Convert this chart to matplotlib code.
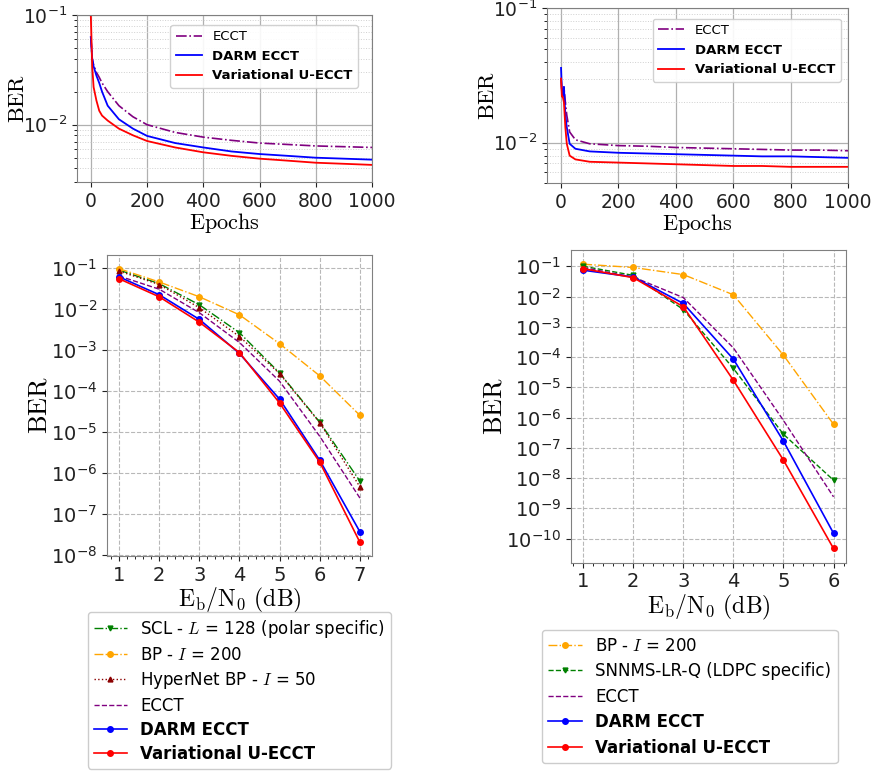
import matplotlib
matplotlib.use("Agg")
import matplotlib.pyplot as plt
from matplotlib.ticker import LogLocator, NullFormatter
import numpy as np

plt.rcParams['mathtext.fontset'] = 'cm'
plt.rcParams['axes.edgecolor'] = '#808080'

# --- training curves, left code ---
ep_left = [0, 5, 10, 20, 30, 40, 60, 100, 150, 200, 300, 400, 500, 600, 700, 800, 900, 1000]
ecct_left = [0.063, 0.040, 0.035, 0.030, 0.027, 0.024, 0.020, 0.0149, 0.0118, 0.0100,
             0.0085, 0.0077, 0.0072, 0.0068, 0.0066, 0.0064, 0.0063, 0.0062]
darm_left = [0.063, 0.040, 0.034, 0.028, 0.024, 0.020, 0.0149, 0.0112, 0.0092, 0.0079,
             0.0068, 0.0062, 0.0057, 0.0054, 0.0052, 0.0050, 0.0049, 0.0048]
vu_left = [0.100, 0.034, 0.022, 0.0166, 0.0134, 0.0121, 0.0109, 0.0092, 0.0080, 0.0071,
           0.0062, 0.0056, 0.0052, 0.0049, 0.0047, 0.0045, 0.0044, 0.0043]

# --- training curves, right code ---
ep_right = [0, 3, 6, 10, 15, 20, 30, 50, 100, 200, 300, 400, 500, 600, 700, 800, 900, 1000]
ecct_right = [0.030, 0.024, 0.022, 0.026, 0.020, 0.016, 0.0120, 0.0105, 0.0098, 0.0095,
              0.0094, 0.0092, 0.0091, 0.0090, 0.0089, 0.0088, 0.0088, 0.0087]
darm_right = [0.036, 0.024, 0.022, 0.026, 0.016, 0.013, 0.0098, 0.0090, 0.0086, 0.0084,
              0.0083, 0.0082, 0.0081, 0.0080, 0.0079, 0.0079, 0.0078, 0.0077]
vu_right = [0.030, 0.022, 0.022, 0.020, 0.013, 0.0098, 0.0080, 0.0075, 0.0072, 0.0071,
            0.0070, 0.0069, 0.0068, 0.0067, 0.0067, 0.0066, 0.0066, 0.0066]

# --- BER vs Eb/N0, polar code ---
snr_polar = [1, 2, 3, 4, 5, 6, 7]
scl_polar = [0.088, 0.041, 0.0125, 0.0026, 2.7e-4, 1.7e-5, 6.2e-7]
bp_polar = [0.095, 0.045, 0.0196, 0.0071, 0.0014, 2.3e-4, 2.5e-5]
hyper_polar = [0.083, 0.039, 0.0106, 0.0021, 2.6e-4, 1.65e-5, 4.5e-7]
ecct_polar = [0.063, 0.030, 0.0080, 0.0015, 1.7e-4, 7.7e-6, 2.4e-7]
darm_polar = [0.060, 0.022, 0.0055, 8.1e-4, 6.2e-5, 2.0e-6, 3.6e-8]
vu_polar = [0.054, 0.0196, 0.0047, 8.5e-4, 5.0e-5, 1.8e-6, 2.0e-8]

# --- BER vs Eb/N0, LDPC code ---
snr_ldpc = [1, 2, 3, 4, 5, 6]
bp_ldpc = [0.117, 0.091, 0.053, 0.0114, 1.15e-4, 6.0e-7]
snnms_ldpc = [0.100, 0.050, 0.0037, 4.2e-5, 2.8e-7, 8.5e-9]
ecct_ldpc = [0.090, 0.044, 0.0092, 2.0e-4, 8.0e-7, 2.4e-9]
darm_ldpc = [0.074, 0.044, 0.0059, 8.5e-5, 1.65e-7, 1.5e-10]
vu_ldpc = [0.083, 0.042, 0.0046, 1.7e-5, 3.9e-8, 4.7e-11]

fig = plt.figure(figsize=(8.74, 7.72), dpi=100)
ax_tl = fig.add_axes([0.0878, 0.7642, 0.3378, 0.2164])
ax_tr = fig.add_axes([0.6255, 0.7629, 0.3450, 0.2263])
ax_bl = fig.add_axes([0.1224, 0.2798, 0.3032, 0.3899])
ax_br = fig.add_axes([0.6530, 0.2711, 0.3150, 0.4051])


def training_panel(ax, ep, ecct, darm, vu, ylim, anchor):
    ax.plot(ep, ecct, color='purple', ls='-.', lw=1.2, label='ECCT')
    ax.plot(ep, darm, color='blue', lw=1.3, label='DARM ECCT')
    ax.plot(ep, vu, color='red', lw=1.3, label='Variational U-ECCT')
    ax.set_yscale('log')
    ax.set_xlim(-50, 1000)
    ax.set_ylim(*ylim)
    ax.set_xticks([0, 200, 400, 600, 800, 1000])
    ax.grid(True, which='major', color='#b0b0b0', lw=0.9)
    ax.grid(True, which='minor', axis='y', color='#d0d0d0', lw=0.7, ls=':')
    ax.tick_params(axis='both', which='major', labelsize=13.5, colors='#222222')
    ax.yaxis.set_minor_formatter(NullFormatter())
    ax.set_xlabel(r'$\mathrm{Epochs}$', fontsize=16, labelpad=0)
    ax.set_ylabel(r'$\mathrm{BER}$', fontsize=16, labelpad=-4)
    leg = ax.legend(loc='upper right', bbox_to_anchor=anchor, borderaxespad=0,
                    fontsize=9.5, framealpha=0.9)
    for t in leg.get_texts()[1:]:
        t.set_fontweight('bold')


training_panel(ax_tl, ep_left, ecct_left, darm_left, vu_left, (3e-3, 1e-1), (0.953, 0.94))
training_panel(ax_tr, ep_right, ecct_right, darm_right, vu_right, (5e-3, 1e-1), (0.975, 0.94))


def ber_panel(ax, snr):
    ax.set_yscale('log')
    ax.yaxis.set_major_locator(LogLocator(base=10, numticks=20))
    ax.yaxis.set_minor_formatter(NullFormatter())
    ax.minorticks_on()
    ax.set_xticks(snr)
    ax.grid(True, which='major', color='#b8b8b8', ls='--', lw=0.8)
    ax.tick_params(axis='both', which='major', labelsize=14, colors='#222222')
    ax.set_xlabel(r'$\mathrm{E_b/N_0}$ $\mathrm{(dB)}$', fontsize=17, labelpad=1)
    ax.set_ylabel(r'$\mathrm{BER}$', fontsize=19, labelpad=-1)


ax = ax_bl
ax.plot(snr_polar, scl_polar, color='green', ls='-.', marker='v', ms=3.5, lw=1,
        label=r'SCL - $L$ = 128 (polar specific)')
ax.plot(snr_polar, bp_polar, color='orange', ls='-.', marker='o', ms=4, lw=1,
        label=r'BP - $I$ = 200')
ax.plot(snr_polar, hyper_polar, color='darkred', ls=':', marker='^', ms=3.5, lw=1,
        label=r'HyperNet BP - $I$ = 50')
ax.plot(snr_polar, ecct_polar, color='purple', ls='--', lw=1, label='ECCT')
ax.plot(snr_polar, darm_polar, color='blue', marker='o', ms=4, lw=1.2, label='DARM ECCT')
ax.plot(snr_polar, vu_polar, color='red', marker='o', ms=4, lw=1.2, label='Variational U-ECCT')
ber_panel(ax, snr_polar)
leg = ax.legend(loc='upper center', bbox_to_anchor=(0.274, 0.2073), bbox_transform=fig.transFigure,
                borderaxespad=0, fontsize=12, framealpha=1, labelspacing=0.36, borderpad=0.35)
for t in leg.get_texts()[4:]:
    t.set_fontweight('bold')

ax = ax_br
ax.plot(snr_ldpc, bp_ldpc, color='orange', ls='-.', marker='o', ms=4, lw=1,
        label=r'BP - $I$ = 200')
ax.plot(snr_ldpc, snnms_ldpc, color='green', ls='--', marker='v', ms=3.5, lw=1,
        label='SNNMS-LR-Q (LDPC specific)')
ax.plot(snr_ldpc, ecct_ldpc, color='purple', ls='--', lw=1, label='ECCT')
ax.plot(snr_ldpc, darm_ldpc, color='blue', marker='o', ms=4, lw=1.2, label='DARM ECCT')
ax.plot(snr_ldpc, vu_ldpc, color='red', marker='o', ms=4, lw=1.2, label='Variational U-ECCT')
ber_panel(ax, snr_ldpc)
leg = ax.legend(loc='upper center', bbox_to_anchor=(0.789, 0.184), bbox_transform=fig.transFigure,
                borderaxespad=0, fontsize=12, framealpha=1, labelspacing=0.45)
for t in leg.get_texts()[3:]:
    t.set_fontweight('bold')

fig.savefig('out.png', dpi=100)
